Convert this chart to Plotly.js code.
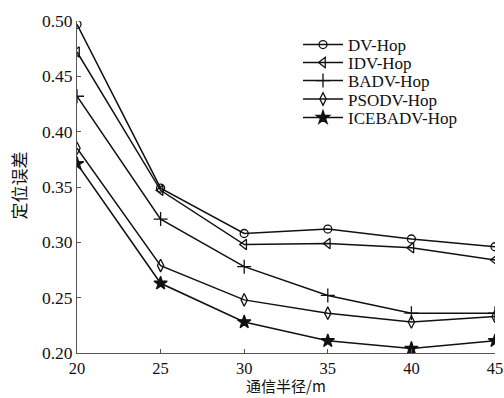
<!DOCTYPE html>
<html>
<head>
<meta charset="utf-8">
<script src="https://cdn.plot.ly/plotly-3.0.1.min.js"></script>
<style>html,body{margin:0;padding:0;background:#fff;}#chart{width:504px;height:398px;}</style>
</head>
<body>
<div id="chart"></div>
<script>
const radius = [20, 25, 30, 35, 40, 45];
const seriesNames = ["DV-Hop", "IDV-Hop", "BADV-Hop", "PSODV-Hop", "ICEBADV-Hop"];
const dvHop = [0.497, 0.349, 0.308, 0.312, 0.303, 0.296];
const idvHop = [0.472, 0.347, 0.298, 0.299, 0.295, 0.284];
const badvHop = [0.432, 0.321, 0.278, 0.252, 0.236, 0.236];
const psodvHop = [0.385, 0.279, 0.248, 0.236, 0.228, 0.233];
const icebadvHop = [0.371, 0.263, 0.228, 0.211, 0.204, 0.211];
const xTicks = [20, 25, 30, 35, 40, 45];
const yTicks = [0.20, 0.25, 0.30, 0.35, 0.40, 0.45, 0.50];
const xTitle = "通信半径/m";
const yTitle = "定位误差";

const values = [dvHop, idvHop, badvHop, psodvHop, icebadvHop];
const symbols = ["circle-open", "triangle-left-open", "cross-thin-open", "diamond-tall-open", "star"];
const sizes = [8, 9, 10, 9, 10];
const legendIds = ["legend", "legend2", "legend3", "legend4", "legend5"];
// legend entry centres (pixels from top), converted to paper coords of the plot area
const legendRowPx = [45, 63, 81, 99.5, 118];

const plotTop = 21, plotBottom = 353, plotLeft = 77, plotRight = 495;
const pyPaper = px => (plotBottom - px) / (plotBottom - plotTop);
const pxPaper = px => (px - plotLeft) / (plotRight - plotLeft);

const traces = values.map((v, i) => ({
  x: radius, y: v, name: seriesNames[i], type: "scatter", mode: "lines+markers",
  legend: legendIds[i],
  line: {color: "#111", width: 1.5},
  marker: {symbol: symbols[i], size: sizes[i], color: "#111", line: {color: "#111", width: 1.3}}
}));

const serif = "'Liberation Serif', 'Times New Roman', serif";
const cjk = "'Noto Sans CJK SC', 'Liberation Serif', sans-serif";
const layout = {
  width: 504, height: 398,
  margin: {l: plotLeft, r: 504 - plotRight, t: plotTop, b: 398 - plotBottom},
  paper_bgcolor: "#fff", plot_bgcolor: "#fff",
  font: {family: serif, color: "#111", size: 17},
  showlegend: true,
  xaxis: {range: [20, 45], tickvals: xTicks, ticktext: xTicks.map(String), showgrid: false, zeroline: false,
          showline: true, linecolor: "#555", linewidth: 1, ticks: "inside", ticklen: 4, tickcolor: "#555",
          tickfont: {size: 16.5, family: serif}},
  yaxis: {range: [0.2, 0.5], tickvals: yTicks, ticktext: yTicks.map(t => t.toFixed(2)), showgrid: false, zeroline: false,
          showline: true, linecolor: "#555", linewidth: 1, ticks: "inside", ticklen: 4, tickcolor: "#555",
          tickfont: {size: 17.5, family: serif}},
  annotations: [
    {text: xTitle, xref: "paper", yref: "paper", x: pxPaper(286), y: pyPaper(398), xanchor: "center", yanchor: "bottom",
     showarrow: false, font: {size: 15, family: cjk, color: "#111"}},
    {text: yTitle, xref: "paper", yref: "paper", x: pxPaper(17.5), y: pyPaper(186), xanchor: "center", yanchor: "middle",
     textangle: -90, showarrow: false, font: {size: 17, family: cjk, color: "#111"}}
  ]
};
legendIds.forEach((id, i) => {
  layout[id] = {x: pxPaper(298), y: pyPaper(legendRowPx[i]), xanchor: "left", yanchor: "middle",
                bgcolor: "rgba(0,0,0,0)", borderwidth: 0, itemwidth: 40,
                font: {family: serif, size: 17, color: "#111"}};
});

Plotly.newPlot("chart", traces, layout, {staticPlot: true, displayModeBar: false});
</script>
</body>
</html>
